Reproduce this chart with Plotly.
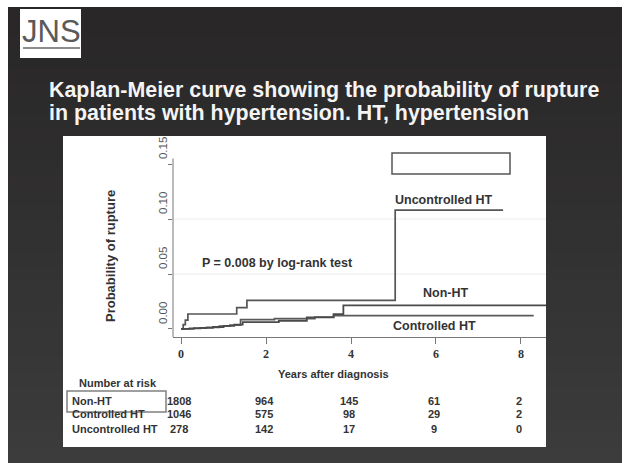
import plotly.graph_objects as go

W, H = 625, 463

# ---------------- data ----------------
x_ticks = [0, 2, 4, 6, 8]
y_ticks = [0.00, 0.05, 0.10, 0.15]
y_tick_labels = ["0.00", "0.05", "0.10", "0.15"]

# Kaplan-Meier step curves (time in years, cumulative probability of rupture)
unctrl_t = [0, 0.05, 0.10, 0.16, 1.31, 1.55, 5.04, 7.58]
unctrl_p = [0, 0.004, 0.008, 0.0136, 0.0195, 0.026, 0.108, 0.108]

nonht_t = [0, 0.2, 0.45, 0.75, 1.0, 1.25, 1.45, 2.3, 2.96, 3.59, 3.82, 8.6]
nonht_p = [0, 0.0005, 0.001, 0.0018, 0.0028, 0.004, 0.0062, 0.0075, 0.0105, 0.0135, 0.0215, 0.0215]

ctrl_t = [0, 0.3, 0.6, 0.9, 1.15, 1.4, 2.2, 3.15, 3.59, 8.3]
ctrl_p = [0, 0.0008, 0.0015, 0.0025, 0.0035, 0.0085, 0.0095, 0.0108, 0.0122, 0.0122]

risk_groups = ["Non-HT", "Controlled HT", "Uncontrolled HT"]
risk_nonht = [1808, 964, 145, 61, 2]
risk_ctrl = [1046, 575, 98, 29, 2]
risk_unctrl = [278, 142, 17, 9, 0]

title_lines = ["Kaplan-Meier curve showing the probability of rupture",
               "in patients with hypertension. HT, hypertension"]

# ---------------- helpers ----------------
def fx(px):
    return px / W

def fy(py):
    return 1 - py / H

SANS = "Liberation Sans"
SERIF = "Liberation Serif"

fig = go.Figure()

fig.add_trace(go.Scatter(x=unctrl_t, y=unctrl_p, mode="lines", line=dict(shape="hv", color="#555555", width=1.7),
                         hoverinfo="skip", showlegend=False))
fig.add_trace(go.Scatter(x=ctrl_t, y=ctrl_p, mode="lines", line=dict(shape="hv", color="#5a5a5a", width=1.7),
                         hoverinfo="skip", showlegend=False))
fig.add_trace(go.Scatter(x=nonht_t, y=nonht_p, mode="lines", line=dict(shape="hv", color="#4a4a4a", width=1.8),
                         hoverinfo="skip", showlegend=False))

shapes = []
# slide background gradient
n_bands = 30
top, bot = 7, H
for i in range(n_bands):
    y0 = top + (bot - top) * i / n_bands
    y1 = top + (bot - top) * (i + 1) / n_bands + 1
    t = i / (n_bands - 1)
    r = int(41 + (60 - 41) * t)
    g = int(39 + (60 - 39) * t)
    b = int(39 + (60 - 39) * t)
    shapes.append(dict(type="rect", xref="paper", yref="paper", x0=fx(8), x1=fx(622),
                       y0=fy(y1), y1=fy(y0), fillcolor=f"rgb({r},{g},{b})", line=dict(width=0),
                       layer="below"))
# white outer strips (left, top, right)
for (a, b_, c, d) in [(0, 8, 0, H), (0, W, 0, 7), (622, W, 0, H)]:
    shapes.append(dict(type="rect", xref="paper", yref="paper", x0=fx(a), x1=fx(b_), y0=fy(d), y1=fy(c),
                       fillcolor="white", line=dict(width=0), layer="below"))
# white panel
shapes.append(dict(type="rect", xref="paper", yref="paper", x0=fx(63), x1=fx(546), y0=fy(447), y1=fy(136),
                   fillcolor="white", line=dict(width=0), layer="below"))
# gridlines
for gv in [0.05, 0.10]:
    shapes.append(dict(type="line", xref="x domain", yref="y", x0=0, x1=1, y0=gv, y1=gv,
                       line=dict(color="#ececec", width=1), layer="below"))
# y axis line
shapes.append(dict(type="line", xref="x domain", yref="y", x0=0, x1=0, y0=-0.0073, y1=0.155,
                   line=dict(color="#777777", width=1)))
# logo box
shapes.append(dict(type="rect", xref="paper", yref="paper", x0=fx(20), x1=fx(81), y0=fy(58), y1=fy(9),
                   fillcolor="white", line=dict(width=0)))
shapes.append(dict(type="line", xref="paper", yref="paper", x0=fx(23), x1=fx(80), y0=fy(48), y1=fy(48),
                   line=dict(color="#666666", width=1.5)))
# empty legend-like box top right
shapes.append(dict(type="rect", xref="paper", yref="paper", x0=fx(392), x1=fx(510), y0=fy(174), y1=fy(153),
                   fillcolor="white", line=dict(color="#555555", width=1.5)))
# box around Non-HT in risk table
shapes.append(dict(type="rect", xref="paper", yref="paper", x0=fx(67), x1=fx(166), y0=fy(412), y1=fy(391),
                   line=dict(color="#808080", width=1.5)))

ann = []
def text(px, py, s, size=11, color="#333333", bold=True, anchor="center", family=SANS, angle=0):
    ann.append(dict(xref="paper", yref="paper", x=fx(px), y=fy(py),
                    text=f"<b>{s}</b>" if bold else s, showarrow=False, xanchor=anchor, yanchor="middle",
                    textangle=angle, font=dict(family=family, size=size, color=color)))

# logo
text(51, 31, "JNS", size=31, color="#5a5a5a", bold=False, family=SANS)
# title
text(47, 90, title_lines[0], size=21.4, color="#f4f4f4", anchor="left")
text(47, 113, title_lines[1], size=21.4, color="#f4f4f4", anchor="left")
# axis titles
text(110, 256, "Probability of rupture", size=13, angle=-90)
text(333, 374, "Years after diagnosis", size=11)
# y tick labels (rotated, drawn slightly above their ticks as in the original)
for yv, lbl in zip(y_ticks, y_tick_labels):
    ann.append(dict(xref="paper", yref="y", x=fx(163), y=yv, yshift=16, text=lbl, showarrow=False,
                    xanchor="center", yanchor="middle", textangle=-90,
                    font=dict(family=SANS, size=11.5, color="#555555")))
# in-plot labels
text(444, 200, "Uncontrolled HT", size=12.5)
text(277, 263, "P = 0.008 by log-rank test", size=12.5)
text(445, 293, "Non-HT", size=12.5)
text(435, 326, "Controlled HT", size=12.5)
# risk table
text(118, 383, "Number at risk", size=11)
row_y = [401, 414, 429]
for lbl, ry in zip(risk_groups, row_y):
    text(70, ry, lbl, size=11, anchor="left")
for vals, ry in zip([risk_nonht, risk_ctrl, risk_unctrl], row_y):
    for xv, v in zip(x_ticks, vals):
        ann.append(dict(xref="x", yref="paper", x=xv, y=fy(ry), xshift=-2, text=f"<b>{v}</b>",
                        showarrow=False, xanchor="center", yanchor="middle",
                        font=dict(family=SANS, size=11, color="#333333")))

fig.update_layout(
    width=W, height=H, autosize=False,
    margin=dict(l=0, r=0, t=0, b=0, pad=0, autoexpand=False),
    paper_bgcolor="#3c3c3c", plot_bgcolor="rgba(0,0,0,0)",
    shapes=shapes, annotations=ann, showlegend=False,
    xaxis=dict(domain=[fx(173), fx(546)], range=[-0.19, 8.59], tickvals=x_ticks, automargin=False,
               ticktext=[f"<b>{v}</b>" for v in x_ticks], ticks="outside", ticklen=6, tickcolor="#777777",
               showline=True, linecolor="#777777", linewidth=1, showgrid=False, zeroline=False,
               tickfont=dict(family=SERIF, size=12, color="#333333"), fixedrange=True),
    yaxis=dict(domain=[fy(337), fy(136)], range=[-0.0073, 0.1755], tickvals=y_ticks, automargin=False,
               showticklabels=False, ticks="outside", ticklen=4, tickcolor="#777777",
               showline=False, showgrid=False, zeroline=False, fixedrange=True),
)

fig.write_html("out.html")
